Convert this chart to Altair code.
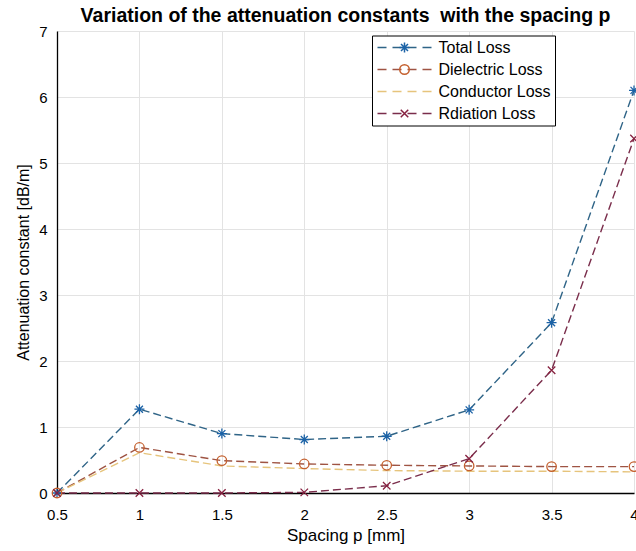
import altair as alt
import pandas as pd

p_mm = [0.5, 1.0, 1.5, 2.0, 2.5, 3.0, 3.5, 4.0]
total_loss = [0.0, 1.27, 0.90, 0.81, 0.86, 1.26, 2.58, 6.10]
dielectric_loss = [0.0, 0.69, 0.49, 0.44, 0.42, 0.41, 0.40, 0.40]
conductor_loss = [0.0, 0.61, 0.41, 0.37, 0.34, 0.33, 0.33, 0.32]
radiation_loss = [0.0, 0.0, 0.0, 0.01, 0.11, 0.52, 1.86, 5.37]

series_names = ["Total Loss", "Dielectric Loss", "Conductor Loss", "Rdiation Loss"]
line_colors = ["#2f6487", "#9f5443", "#e6c47c", "#7a2d4b"]
marker_colors = ["#1b62a6", "#c4602e", "#e6c47c", "#86203f"]
marker_shapes = [
    "M-1,0H1M0,-1V1M-0.7,-0.7L0.7,0.7M-0.7,0.7L0.7,-0.7",
    "M-0.95,0A0.95,0.95,0,1,0,0.95,0A0.95,0.95,0,1,0,-0.95,0",
    "M0,0",
    "M-0.75,-0.75L0.75,0.75M-0.75,0.75L0.75,-0.75",
]
x_ticks = [0.5, 1, 1.5, 2, 2.5, 3, 3.5, 4]
y_ticks = [0, 1, 2, 3, 4, 5, 6, 7]

rows = []
for name, vals in zip(series_names, [total_loss, dielectric_loss, conductor_loss, radiation_loss]):
    for x, v in zip(p_mm, vals):
        rows.append({"p": x, "value": v, "series": name})
df = pd.DataFrame(rows)

FONT = "Liberation Sans"

common_legend = dict(
    orient="none", legendX=315, legendY=4.5, title=None,
    symbolSize=100, symbolStrokeWidth=1.5, symbolOffset=20.5,
    labelOffset=26, labelFont=FONT, labelFontSize=16, rowPadding=6,
    padding=4,
)

x_enc = alt.X("p:Q", scale=alt.Scale(domain=[0.5, 4], nice=False),
              axis=alt.Axis(values=x_ticks, format="~g", title="Spacing p [mm]",
                            labelFlush=False, labelOverlap=False, labelPadding=14,
                            titlePadding=5, titleFontSize=17))
y_enc = alt.Y("value:Q", scale=alt.Scale(domain=[0, 7], nice=False),
              axis=alt.Axis(values=y_ticks, title="Attenuation constant [dB/m]",
                            labelPadding=10, titlePadding=7, titleFontSize=16))

lines = alt.Chart(df).mark_line(strokeDash=[8, 4], strokeWidth=1.4).encode(
    x=x_enc, y=y_enc,
    color=alt.Color("series:N",
                    scale=alt.Scale(domain=series_names, range=line_colors),
                    legend=alt.Legend(symbolType="M-5.4,0H5.4", symbolDash=[9, 6],
                                      strokeColor="black", fillColor="white",
                                      labelColor="black", **common_legend)),
)

pt_legend = alt.Legend(labelExpr="''", fillColor="rgba(0,0,0,0)", **common_legend)
points = alt.Chart(df).mark_point(filled=False, size=100, strokeWidth=1.3, opacity=1).encode(
    x=x_enc, y=y_enc,
    color=alt.Color("series:N",
                    scale=alt.Scale(domain=series_names, range=marker_colors),
                    legend=pt_legend),
    shape=alt.Shape("series:N",
                    scale=alt.Scale(domain=series_names, range=marker_shapes),
                    legend=pt_legend),
)

chart = alt.layer(lines, points).resolve_scale(
    color="independent", shape="independent"
).properties(
    width=577, height=462,
    title=alt.TitleParams("Variation of the attenuation constants\u00a0 with the spacing p",
                          font=FONT, fontSize=19.5, fontWeight="bold", color="black",
                          anchor="middle", offset=5, dy=7),
    autosize=alt.AutoSizeParams(type="none"),
    padding={"left": 57, "top": 31, "right": 2, "bottom": 58},
    background="white",
).configure_view(stroke=None).configure_axis(
    labelFont=FONT, labelFontSize=15, labelColor="black",
    titleFont=FONT, titleFontWeight="normal", titleColor="black",
    domainColor="black", domainWidth=1.3, gridColor="#e3e3e3", grid=True,
    ticks=False,
)

chart.save("out.html", embed_options={"renderer": "svg", "actions": False})
